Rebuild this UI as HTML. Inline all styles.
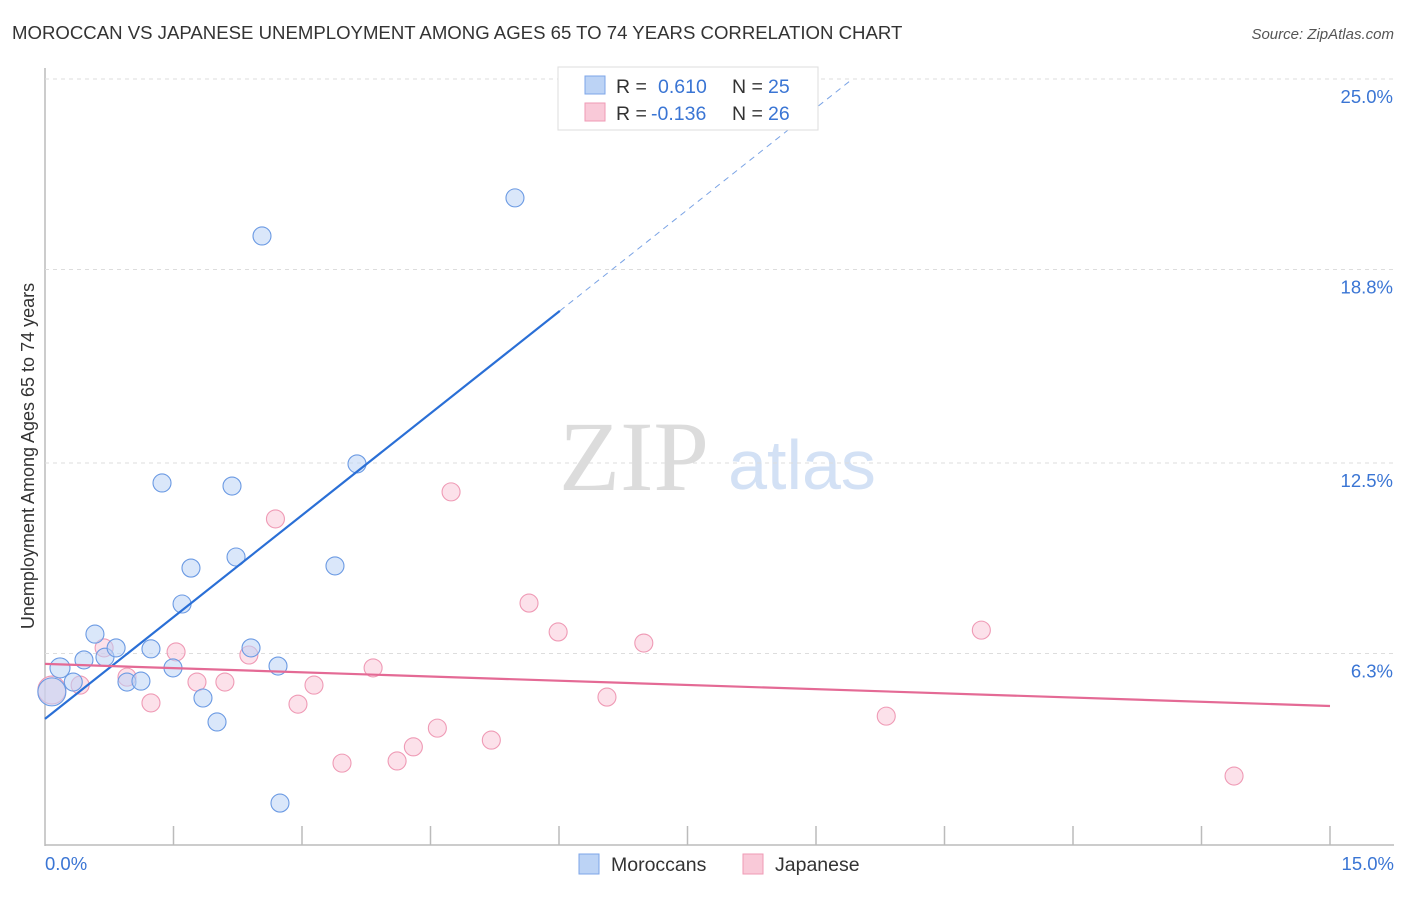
<!DOCTYPE html>
<html><head><meta charset="utf-8"><style>
body{margin:0;background:#fff;font-family:"Liberation Sans",sans-serif}
</style></head><body>
<svg id="c" width="1406" height="892" viewBox="0 0 1406 892" xmlns="http://www.w3.org/2000/svg" font-family="Liberation Sans, sans-serif">
<text x="12" y="39" font-size="18.6" fill="#333">MOROCCAN VS JAPANESE UNEMPLOYMENT AMONG AGES 65 TO 74 YEARS CORRELATION CHART</text>
<text x="1394" y="39" font-size="15" fill="#555" text-anchor="end" font-style="italic">Source: ZipAtlas.com</text>
<text x="634" y="490" font-size="100" fill="#dcdcdc" style="font-family:'Liberation Serif',serif" text-anchor="middle">ZIP</text>
<text x="802" y="489" font-size="70" fill="#d3e1f5" text-anchor="middle">atlas</text>
<text transform="translate(34,456) rotate(-90)" font-size="18" fill="#333" text-anchor="middle">Unemployment Among Ages 65 to 74 years</text>
<g id="grid"></g><g id="marks"></g>
<g>
<rect x="558" y="67" width="260" height="63" fill="#fff" stroke="#ddd"/>
<rect x="585" y="76" width="20" height="18" fill="#bcd3f5" stroke="#7da6e8"/>
<rect x="585" y="103" width="20" height="18" fill="#f9c9d8" stroke="#ef9ab5"/>
<text x="616" y="93" font-size="19.5" fill="#333">R = </text><text x="658" y="93" font-size="19.5" fill="#3a75d4">0.610</text>
<text x="732" y="93" font-size="19.5" fill="#333">N = </text><text x="768" y="93" font-size="19.5" fill="#3a75d4">25</text>
<text x="616" y="120" font-size="19.5" fill="#333">R = </text><text x="651" y="120" font-size="19.5" fill="#3a75d4">-0.136</text>
<text x="732" y="120" font-size="19.5" fill="#333">N = </text><text x="768" y="120" font-size="19.5" fill="#3a75d4">26</text>
</g>
<g>
<rect x="579" y="854" width="20" height="20" fill="#bcd3f5" stroke="#7da6e8"/>
<text x="611" y="871" font-size="19.5" fill="#333">Moroccans</text>
<rect x="743" y="854" width="20" height="20" fill="#f9c9d8" stroke="#ef9ab5"/>
<text x="775" y="871" font-size="19.5" fill="#333">Japanese</text>
</g>
</svg>
<script>
const yTicks=[25.0,18.8,12.5,6.3];
const yTickLabels=["25.0%","18.8%","12.5%","6.3%"];
const xEndLabels=["0.0%","15.0%"];
const blueX=[0.175,0.08,0.33,0.455,0.583,0.70,0.83,0.957,1.12,1.237,1.494,1.60,1.704,1.844,2.008,2.183,2.23,2.405,2.533,2.72,2.743,3.385,3.642,5.486,1.366];
const blueY=[5.83,5.05,5.37,6.09,6.93,6.18,6.48,5.37,5.40,6.45,5.83,7.91,9.08,4.85,4.07,11.75,9.44,6.48,19.89,5.89,1.43,9.15,12.47,21.13,11.85];
const pinkX=[0.08,0.41,0.69,0.957,1.237,1.53,1.774,2.10,2.38,2.69,2.953,3.14,3.467,3.83,4.11,4.30,4.58,4.74,5.21,5.65,5.99,6.56,6.99,9.82,10.93,13.88];
const pinkY=[5.11,5.27,6.48,5.53,4.69,6.35,5.37,5.37,6.25,10.68,4.65,5.27,2.73,5.83,2.8,3.26,3.87,11.56,3.48,7.94,7.0,4.88,6.64,4.26,7.06,2.31];
const blueTrend=[4.17,2.21];
const pinkTrend=[5.96,-0.0913];
const NS="http://www.w3.org/2000/svg";
const sx=v=>45+v/15*1285;
const sy=v=>79+(25-v)*30.72;
function mk(t,a,p){const e=document.createElementNS(NS,t);for(const k in a)e.setAttribute(k,a[k]);p.appendChild(e);return e;}
const g=document.getElementById('grid'),m=document.getElementById('marks');
let ax=mk('line',{x1:45,y1:68,x2:45,y2:846,stroke:'#bbb','stroke-width':1.5},g);


let bx=mk('line',{x1:45,y1:845,x2:1394,y2:845,stroke:'#bbb','stroke-width':1.5},g);


yTicks.forEach((v,i)=>{
 const ln=mk('line',{x1:45,y1:sy(v),x2:1394,y2:sy(v),stroke:'#ddd','stroke-dasharray':'4,4'},g);
 
 
 const t=mk('text',{x:1393,y:sy(v)+24,'font-size':18.5,fill:'#3a75d4','text-anchor':'end'},g);t.textContent=yTickLabels[i];
 
 
});
for(let i=1;i<=10;i++){
 const x=sx(i*1.5);
 const tk=mk('line',{x1:x,y1:826,x2:x,y2:845,stroke:'#bbb','stroke-width':1.5},g);
 
 
}
[[0,'start',45],[15,'end',1394]].forEach((d,i)=>{
 const t=mk('text',{x:d[2],y:870,'font-size':18.5,fill:'#3a75d4','text-anchor':d[1]},g);t.textContent=xEndLabels[i];
 
 
});
function dot(x,y,r,fill,stroke,name){const c=mk('circle',{cx:sx(x),cy:sy(y),r:r,fill:fill,stroke:stroke,'stroke-width':1.1,'fill-opacity':0.55},m);
 
 }
pinkX.forEach((x,i)=>dot(x,pinkY[i],i==0?14:9,'#f9c9d8','#ef9ab5','point-japanese'));
blueX.forEach((x,i)=>dot(x,blueY[i],i==1?14:(i==0?10:9),'#bcd3f5','#6b9ae3','point-moroccans'));
const bs=mk('line',{x1:sx(0),y1:sy(blueTrend[0]),x2:sx(6.01),y2:sy(blueTrend[0]+blueTrend[1]*6.01),stroke:'#2a6fd6','stroke-width':2.2},m);


const bd=mk('line',{x1:sx(6.01),y1:sy(blueTrend[0]+blueTrend[1]*6.01),x2:sx(9.39),y2:sy(blueTrend[0]+blueTrend[1]*9.39),stroke:'#7aa3e5','stroke-width':1,'stroke-dasharray':'6,5'},m);


const pl=mk('line',{x1:sx(0),y1:sy(pinkTrend[0]),x2:sx(15),y2:sy(pinkTrend[0]+pinkTrend[1]*15),stroke:'#e46a95','stroke-width':2.2},m);


</script>
</body></html>
